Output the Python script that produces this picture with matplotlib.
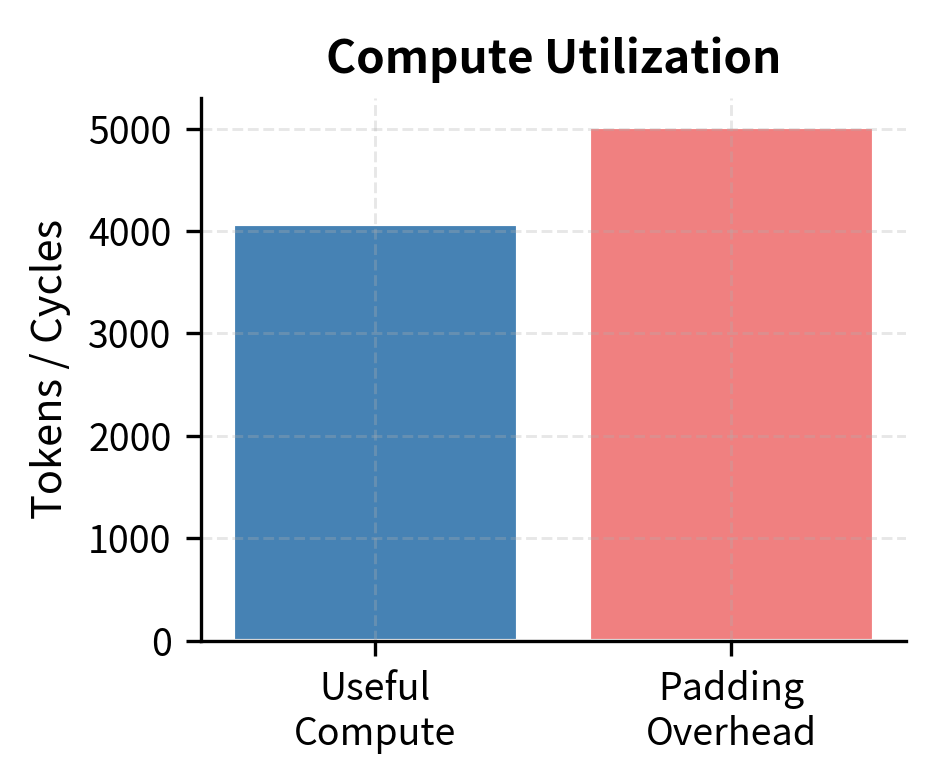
import matplotlib.pyplot as plt

plt.rcParams['font.family'] = ['Noto Sans CJK SC', 'DejaVu Sans']

categories = ["Useful\nCompute", "Padding\nOverhead"]
values = [4070, 5020]
colors = ["#4682B4", "#F08080"]

fig, ax = plt.subplots(figsize=(934 / 300, 784 / 300), dpi=300)
ax.bar(categories, values, color=colors, edgecolor="white", linewidth=1, width=0.8)
ax.set_title("Compute Utilization", fontsize=11, fontweight="bold")
ax.set_ylabel("Tokens / Cycles", fontsize=10)
ax.tick_params(labelsize=9)
ax.set_ylim(0, 5300)
ax.grid(True, linestyle="--", alpha=0.3, linewidth=0.7)
ax.spines["top"].set_visible(False)
ax.spines["right"].set_visible(False)

fig.subplots_adjust(left=0.215, right=0.97, top=0.875, bottom=0.183)
fig.savefig("out.png", dpi=300)
